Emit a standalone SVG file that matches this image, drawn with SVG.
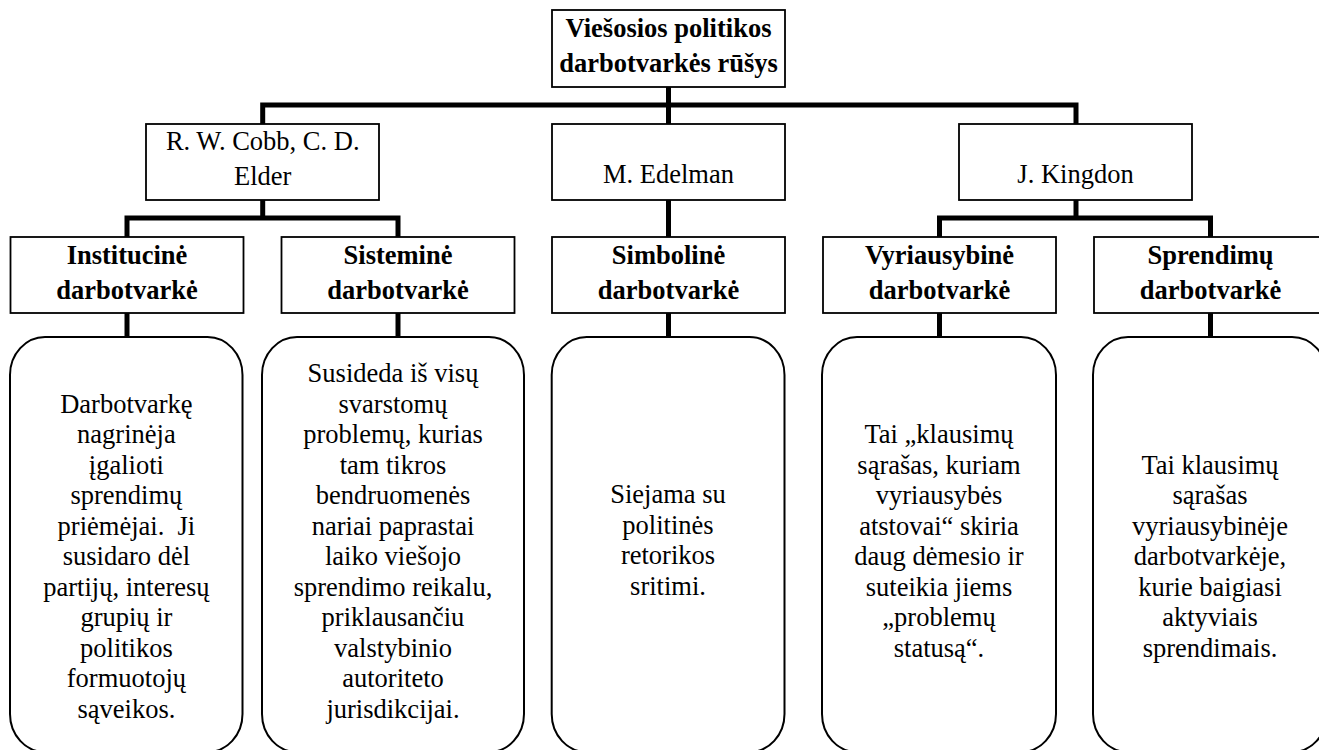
<svg xmlns="http://www.w3.org/2000/svg" width="1319" height="750" viewBox="0 0 1319 750" font-family="Liberation Serif, DejaVu Serif, serif" font-size="26.5">
<style>
.box{fill:#fff;stroke:#000;stroke-width:1.8}
.rbox{fill:#fff;stroke:#000;stroke-width:2}
.con{fill:none;stroke:#000;stroke-width:5;stroke-linecap:butt;stroke-linejoin:miter}
text{font-family:'Liberation Serif','DejaVu Serif',serif;font-size:26.5px;fill:#000;text-anchor:middle}
.b{font-weight:bold}
</style>
<rect width="1319" height="750" fill="#fff"/>
<g id="connectors">
<path class="con" d="M668.5,87 V124"/>
<path class="con" d="M262.7,124 V105 H1076 V124"/>
<path class="con" d="M262.7,200 V218"/>
<path class="con" d="M127,237 V218 H398 V237"/>
<path class="con" d="M668.5,200 V237"/>
<path class="con" d="M1076,200 V218"/>
<path class="con" d="M939.5,237 V218 H1210.5 V237"/>
<path class="con" d="M127,313 V337"/>
<path class="con" d="M398,313 V337"/>
<path class="con" d="M668.5,313 V337"/>
<path class="con" d="M939.5,313 V337"/>
<path class="con" d="M1210.5,313 V337"/>
</g>
<g id="root">
<rect class="box" x="552" y="10" width="233" height="77"/>
<text class="b" font-family="Liberation Serif, serif"><tspan x="668.5" y="36.7">Viešosios politikos</tspan><tspan x="668.5" y="71.7">darbotvarkės rūšys</tspan></text>
</g>
<g id="cobb">
<rect class="box" x="146" y="124" width="233" height="76"/>
<text font-family="Liberation Serif, serif"><tspan x="262.7" y="150">R. W. Cobb, C. D.</tspan><tspan x="262.7" y="185">Elder</tspan></text>
</g>
<g id="edelman">
<rect class="box" x="552" y="124" width="233" height="76"/>
<text font-family="Liberation Serif, serif" x="668.5" y="183">M. Edelman</text>
</g>
<g id="kingdon">
<rect class="box" x="959" y="124" width="233" height="76"/>
<text font-family="Liberation Serif, serif" x="1075.5" y="183">J. Kingdon</text>
</g>
<g id="institucine">
<rect class="box" x="10.5" y="237" width="233" height="76"/>
<text class="b" font-family="Liberation Serif, serif"><tspan x="127" y="264">Institucinė</tspan><tspan x="127" y="299">darbotvarkė</tspan></text>
</g>
<g id="sistemine">
<rect class="box" x="281.5" y="237" width="233" height="76"/>
<text class="b" font-family="Liberation Serif, serif"><tspan x="398" y="264">Sisteminė</tspan><tspan x="398" y="299">darbotvarkė</tspan></text>
</g>
<g id="simboline">
<rect class="box" x="552" y="237" width="233" height="76"/>
<text class="b" font-family="Liberation Serif, serif"><tspan x="668.5" y="264">Simbolinė</tspan><tspan x="668.5" y="299">darbotvarkė</tspan></text>
</g>
<g id="vyriausybine">
<rect class="box" x="823" y="237" width="233" height="76"/>
<text class="b" font-family="Liberation Serif, serif"><tspan x="939.5" y="264">Vyriausybinė</tspan><tspan x="939.5" y="299">darbotvarkė</tspan></text>
</g>
<g id="sprendimu">
<rect class="box" x="1094" y="237" width="233" height="76"/>
<text class="b" font-family="Liberation Serif, serif"><tspan x="1210.5" y="264">Sprendimų</tspan><tspan x="1210.5" y="299">darbotvarkė</tspan></text>
</g>
<g id="institucine-desc">
<rect class="rbox" x="10" y="337" width="232.5" height="415" rx="35" ry="38"/>
<text font-family="Liberation Serif, serif" xml:space="preserve"><tspan x="126.4" y="412.5">Darbotvarkę</tspan><tspan x="126.4" y="443">nagrinėja</tspan><tspan x="126.4" y="473.5">įgalioti</tspan><tspan x="126.4" y="504">sprendimų</tspan><tspan x="126.4" y="534.5">priėmėjai.  Ji</tspan><tspan x="126.4" y="565">susidaro dėl</tspan><tspan x="126.4" y="595.5">partijų, interesų</tspan><tspan x="126.4" y="626">grupių ir</tspan><tspan x="126.4" y="656.5">politikos</tspan><tspan x="126.4" y="687">formuotojų</tspan><tspan x="126.4" y="717.5">sąveikos.</tspan></text>
</g>
<g id="sistemine-desc">
<rect class="rbox" x="262" y="337" width="262" height="415" rx="35" ry="38"/>
<text font-family="Liberation Serif, serif"><tspan x="393" y="382">Susideda iš visų</tspan><tspan x="393" y="412.5">svarstomų</tspan><tspan x="393" y="443">problemų, kurias</tspan><tspan x="393" y="473.5">tam tikros</tspan><tspan x="393" y="504">bendruomenės</tspan><tspan x="393" y="534.5">nariai paprastai</tspan><tspan x="393" y="565">laiko viešojo</tspan><tspan x="393" y="595.5">sprendimo reikalu,</tspan><tspan x="393" y="626">priklausančiu</tspan><tspan x="393" y="656.5">valstybinio</tspan><tspan x="393" y="687">autoriteto</tspan><tspan x="393" y="717.5">jurisdikcijai.</tspan></text>
</g>
<g id="simboline-desc">
<rect class="rbox" x="551.7" y="337" width="232.8" height="415" rx="35" ry="38"/>
<text font-family="Liberation Serif, serif"><tspan x="668" y="503">Siejama su</tspan><tspan x="668" y="533.5">politinės</tspan><tspan x="668" y="564">retorikos</tspan><tspan x="668" y="594.5">sritimi.</tspan></text>
</g>
<g id="vyriausybine-desc">
<rect class="rbox" x="822" y="337" width="234" height="415" rx="35" ry="38"/>
<text font-family="Liberation Serif, serif"><tspan x="939" y="443">Tai „klausimų</tspan><tspan x="939" y="473.5">sąrašas, kuriam</tspan><tspan x="939" y="504">vyriausybės</tspan><tspan x="939" y="534.5">atstovai“ skiria</tspan><tspan x="939" y="565">daug dėmesio ir</tspan><tspan x="939" y="595.5">suteikia jiems</tspan><tspan x="939" y="626">„problemų</tspan><tspan x="939" y="656.5">statusą“.</tspan></text>
</g>
<g id="sprendimu-desc">
<rect class="rbox" x="1093" y="337" width="234" height="415" rx="35" ry="38"/>
<text font-family="Liberation Serif, serif"><tspan x="1210" y="473.5">Tai klausimų</tspan><tspan x="1210" y="504">sąrašas</tspan><tspan x="1210" y="534.5">vyriausybinėje</tspan><tspan x="1210" y="565">darbotvarkėje,</tspan><tspan x="1210" y="595.5">kurie baigiasi</tspan><tspan x="1210" y="626">aktyviais</tspan><tspan x="1210" y="656.5">sprendimais.</tspan></text>
</g>
</svg>
